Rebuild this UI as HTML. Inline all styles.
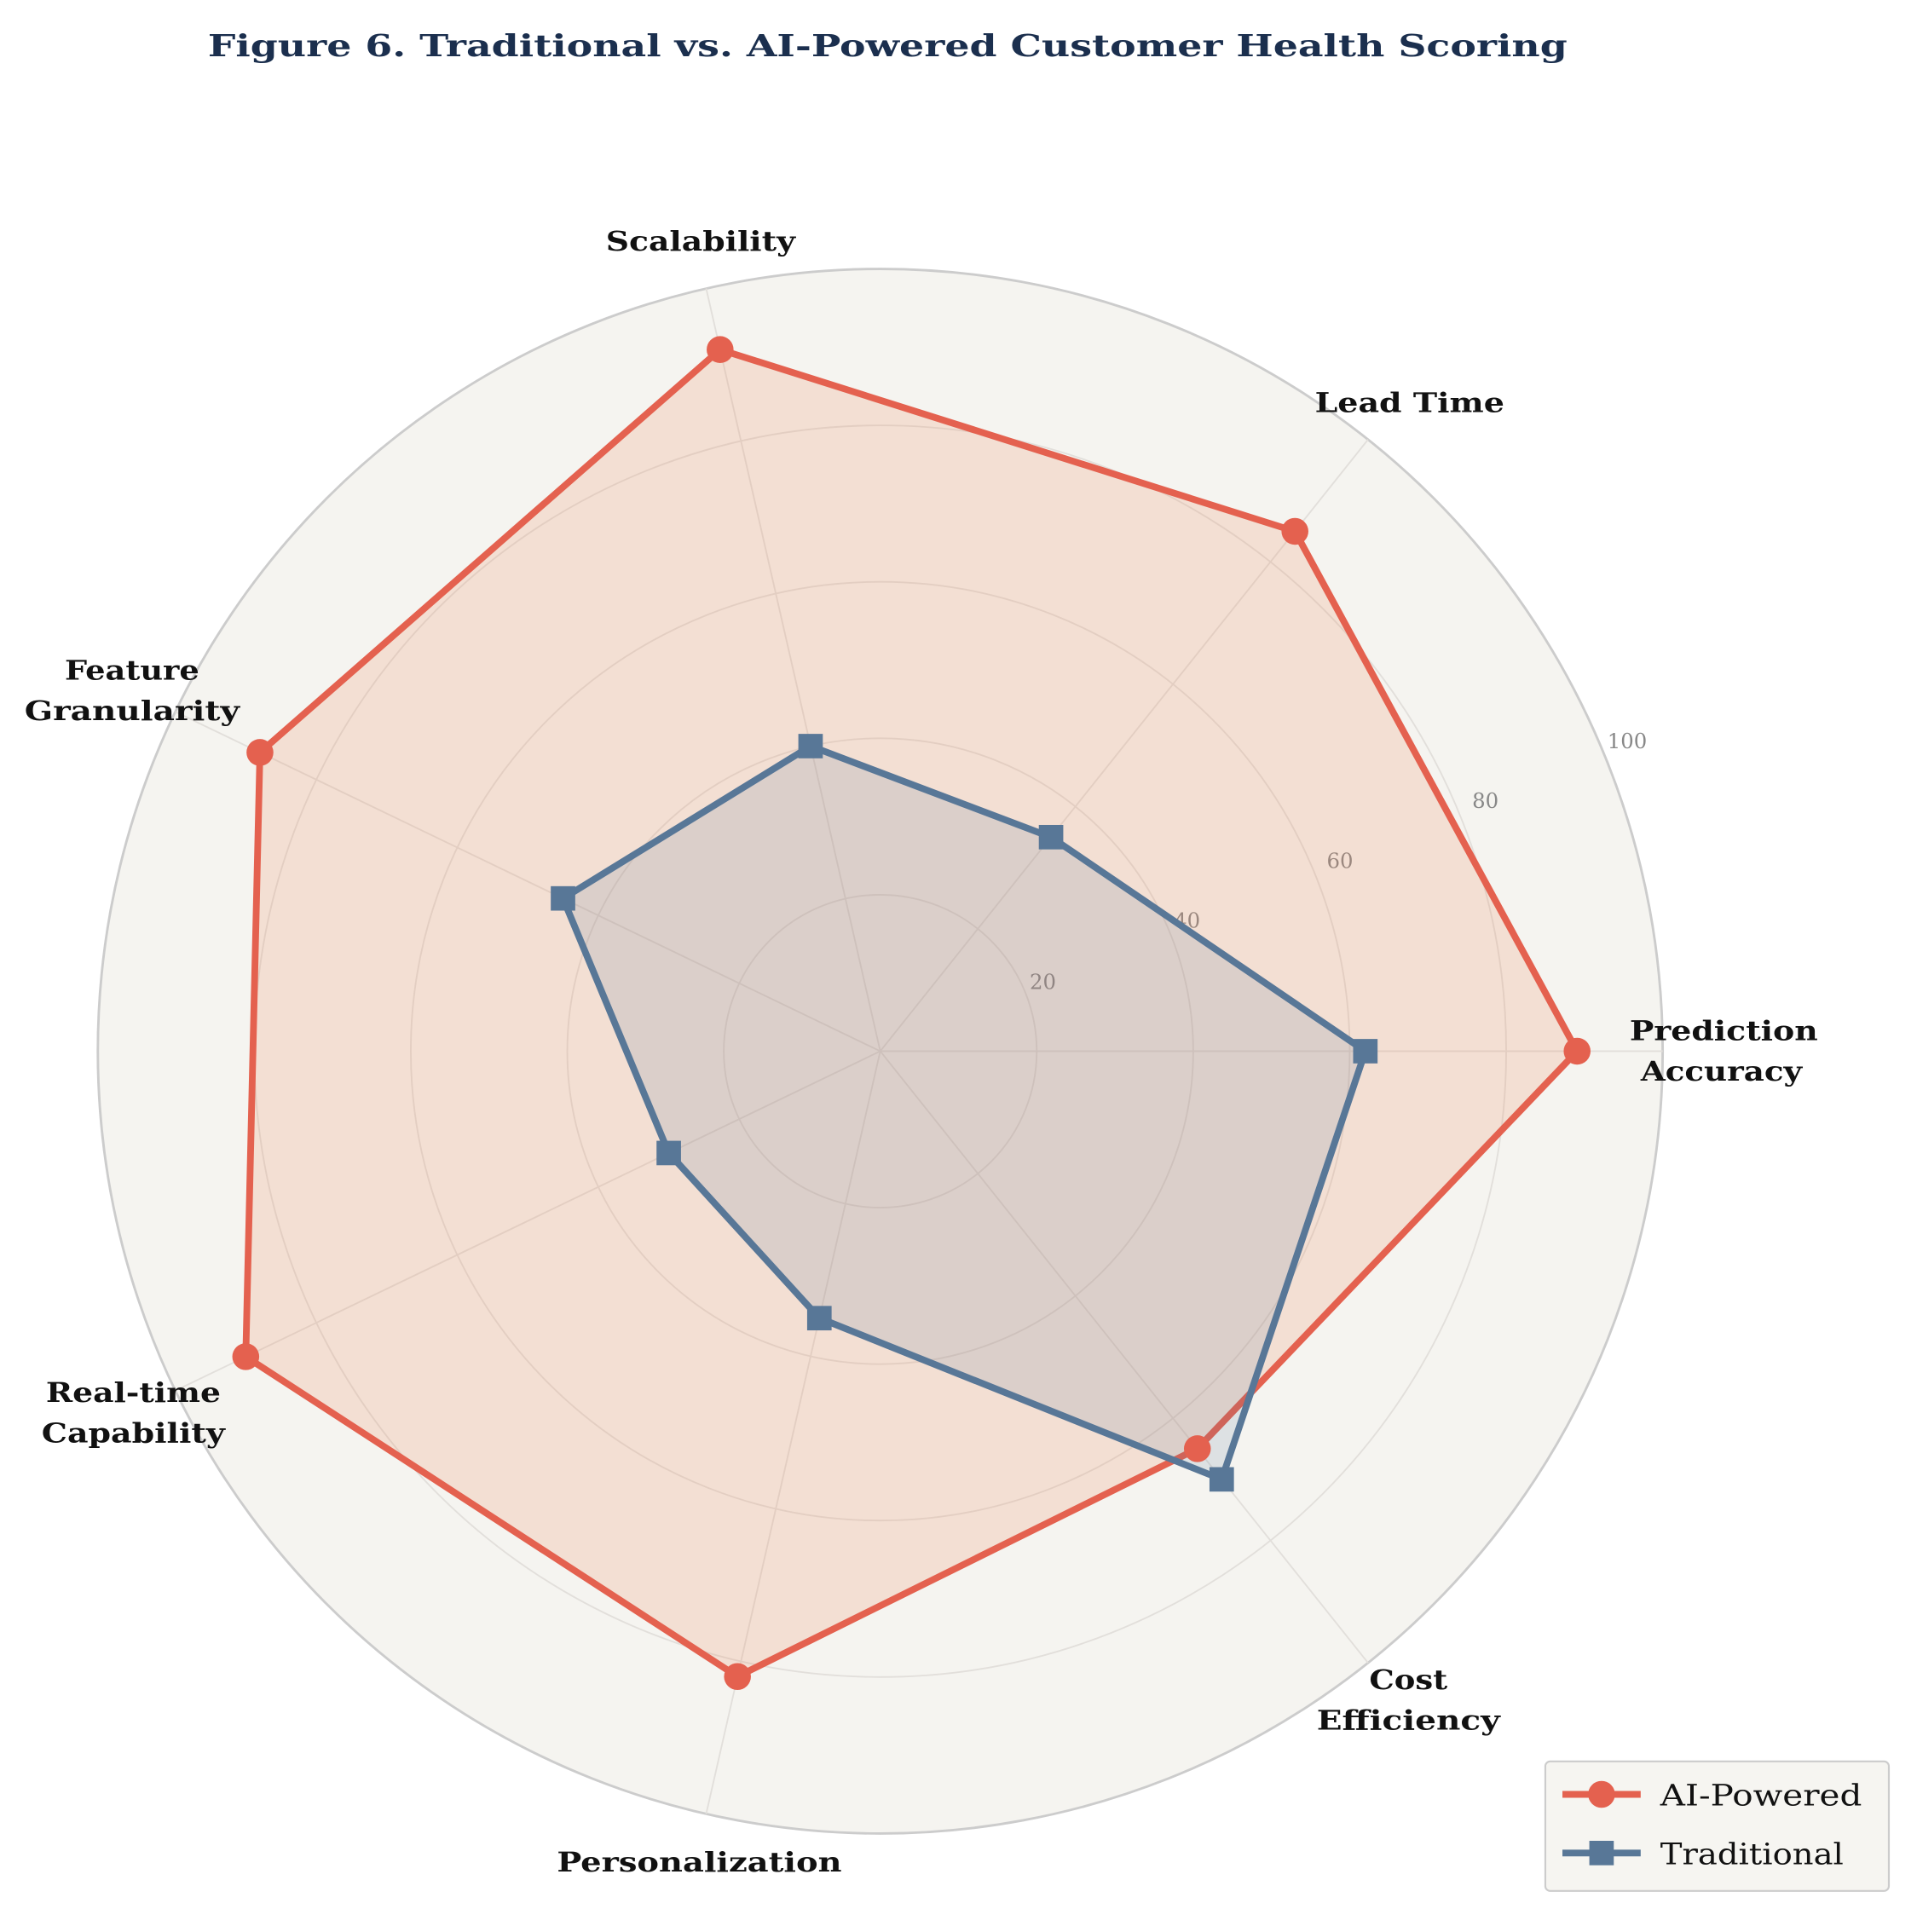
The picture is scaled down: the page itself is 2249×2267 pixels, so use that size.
<!DOCTYPE html>
<html><head><meta charset="utf-8"><style>
html,body{margin:0;padding:0;background:#fff;}
svg{display:block;}
text{font-family:"DejaVu Serif","Liberation Serif",serif;}
</style></head><body>
<svg width="2249" height="2267" viewBox="0 0 1568 1580.6" xmlns="http://www.w3.org/2000/svg">
<rect width="1568" height="1581" fill="#fff"/>
<text x="726" y="46" text-anchor="middle" font-size="25" font-weight="bold" fill="#1b2f4e" textLength="1112" lengthAdjust="spacingAndGlyphs">Figure 6. Traditional vs. AI-Powered Customer Health Scoring</text>
<circle cx="720" cy="860" r="640" fill="#f5f4f0" stroke="#cccccc" stroke-width="2"/>
<g fill="none" stroke="#e2dfdb" stroke-width="1.3">
<circle cx="720" cy="860" r="128"/><circle cx="720" cy="860" r="256"/><circle cx="720" cy="860" r="384"/><circle cx="720" cy="860" r="512"/>
<line x1="720" y1="860" x2="1360" y2="860"/><line x1="720" y1="860" x2="1119" y2="359.6"/><line x1="720" y1="860" x2="577.6" y2="236"/><line x1="720" y1="860" x2="143.4" y2="582.3"/><line x1="720" y1="860" x2="143.4" y2="1137.7"/><line x1="720" y1="860" x2="577.6" y2="1484"/><line x1="720" y1="860" x2="1119" y2="1360.4"/>
</g>
<g font-size="17" fill="#888" font-family="Liberation Serif, serif">
<text x="853" y="809" text-anchor="middle">20</text><text x="971" y="759" text-anchor="middle">40</text><text x="1096" y="710" text-anchor="middle">60</text><text x="1215" y="661" text-anchor="middle">80</text><text x="1331" y="612" text-anchor="middle">100</text>
</g>
<polygon points="1290,860 1059.2,434.7 589,286 212.6,615.6 201,1109.9 603.2,1371.6 979.4,1185.2" fill="#ec8a60" fill-opacity="0.2" stroke="#e4614f" stroke-width="5.5" stroke-linejoin="round"/>
<polygon points="1116.8,860 859.7,684.9 663,610.4 460.5,735 547,943.3 670.2,1078.4 999.3,1210.3" fill="#587797" fill-opacity="0.15" stroke="#587797" stroke-width="5.5" stroke-linejoin="round"/>
<g fill="#e4614f">
<circle cx="1290" cy="860" r="11"/><circle cx="1059.2" cy="434.7" r="11"/><circle cx="589" cy="286" r="11"/><circle cx="212.6" cy="615.6" r="11"/><circle cx="201" cy="1109.9" r="11"/><circle cx="603.2" cy="1371.6" r="11"/><circle cx="979.4" cy="1185.2" r="11"/>
</g>
<g fill="#587797">
<rect x="1106.8" y="850" width="20" height="20"/><rect x="849.7" y="674.9" width="20" height="20"/><rect x="653" y="600.4" width="20" height="20"/><rect x="450.5" y="725" width="20" height="20"/><rect x="537" y="933.3" width="20" height="20"/><rect x="660.2" y="1068.4" width="20" height="20"/><rect x="989.3" y="1200.3" width="20" height="20"/>
</g>
<g font-size="22" font-weight="bold" fill="#111" text-anchor="middle">
<text x="1410" y="851" textLength="154" lengthAdjust="spacingAndGlyphs">Prediction</text><text x="1408" y="884" textLength="132" lengthAdjust="spacingAndGlyphs">Accuracy</text>
<text x="1153" y="337" textLength="155" lengthAdjust="spacingAndGlyphs">Lead Time</text>
<text x="573" y="205" textLength="155" lengthAdjust="spacingAndGlyphs">Scalability</text>
<text x="108" y="556" textLength="110" lengthAdjust="spacingAndGlyphs">Feature</text><text x="108" y="589" textLength="176" lengthAdjust="spacingAndGlyphs">Granularity</text>
<text x="109" y="1147" textLength="143" lengthAdjust="spacingAndGlyphs">Real-time</text><text x="109" y="1180" textLength="150" lengthAdjust="spacingAndGlyphs">Capability</text>
<text x="572" y="1531" textLength="233" lengthAdjust="spacingAndGlyphs">Personalization</text>
<text x="1152" y="1382" textLength="64" lengthAdjust="spacingAndGlyphs">Cost</text><text x="1152" y="1415" textLength="150" lengthAdjust="spacingAndGlyphs">Efficiency</text>
</g>
<rect x="1264" y="1441" width="281" height="106" rx="4" fill="#f5f4f0" fill-opacity="0.9" stroke="#cccccc" stroke-width="1.5"/>
<line x1="1278" y1="1468" x2="1342" y2="1468" stroke="#e4614f" stroke-width="5.5"/>
<circle cx="1310" cy="1468" r="11" fill="#e4614f"/>
<line x1="1278" y1="1516" x2="1342" y2="1516" stroke="#587797" stroke-width="5.5"/>
<rect x="1300" y="1506" width="20" height="20" fill="#587797"/>
<text x="1358" y="1477" font-size="24" fill="#111" textLength="165" lengthAdjust="spacingAndGlyphs">AI-Powered</text>
<text x="1358" y="1525" font-size="24" fill="#111" textLength="150" lengthAdjust="spacingAndGlyphs">Traditional</text>
</svg>
</body></html>
